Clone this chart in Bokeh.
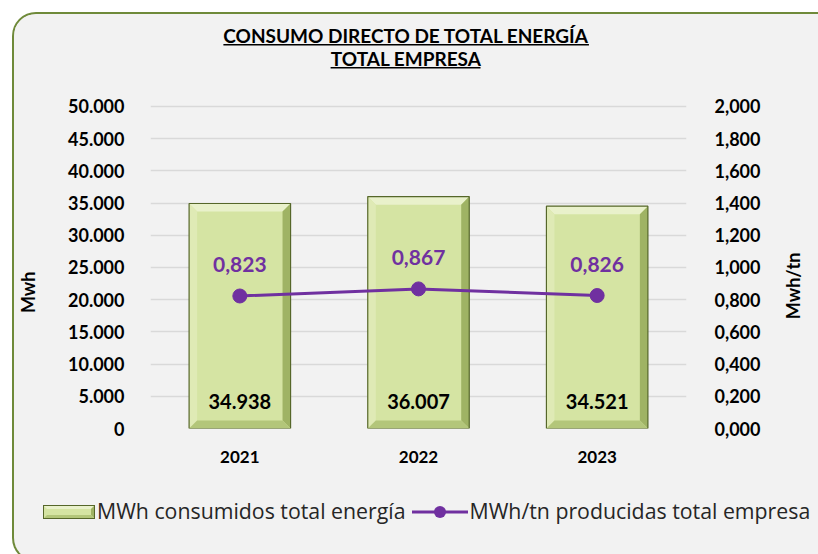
from bokeh.plotting import figure
from bokeh.layouts import column
from bokeh.models import (Range1d, LinearAxis, FixedTicker, ColumnDataSource, Div)
from bokeh.core.properties import value
from bokeh.embed import file_html
from bokeh.resources import INLINE
import math

years = ["2021", "2022", "2023"]
mwh = [34938, 36007, 34521]
ratio = [0.823, 0.867, 0.826]
mwh_labels = ["34.938", "36.007", "34.521"]
ratio_labels = ["0,823", "0,867", "0,826"]
left_ticks = [0, 5000, 10000, 15000, 20000, 25000, 30000, 35000, 40000, 45000, 50000]
left_tick_labels = ["0", "5.000", "10.000", "15.000", "20.000", "25.000", "30.000",
                    "35.000", "40.000", "45.000", "50.000"]
right_ticks = [0, 0.2, 0.4, 0.6, 0.8, 1.0, 1.2, 1.4, 1.6, 1.8, 2.0]
right_tick_labels = ["0,000", "0,200", "0,400", "0,600", "0,800", "1,000", "1,200",
                     "1,400", "1,600", "1,800", "2,000"]
title1 = "CONSUMO DIRECTO DE TOTAL ENERGÍA"
title2 = "TOTAL EMPRESA"
bar_name = "MWh consumidos total energía"
line_name = "MWh/tn producidas total empresa"
left_label = "Mwh"
right_label = "Mwh/tn"

FONT = "Lato"
PURPLE = "#7030a0"
BG = "#f2f2f2"
NB = "\u00a0"
FACE = "#d5e4a3"
EDGE = "#56672a"
TOPC, LEFTC, RIGHTC, BOTC = "#e9f1cb", "#dfeab5", "#9fb364", "#b3c67a"

LEFT_MAX = 50000
RIGHT_MAX = 2.0
TOP = 63354  # left-axis range extended above 50.000 to leave room for the title
RTOP = RIGHT_MAX * TOP / LEFT_MAX

xs = list(range(len(years)))
src = ColumnDataSource(dict(x=xs, mwh=mwh, ratio=ratio, mlab=mwh_labels, rlab=ratio_labels))

W = 804
p = figure(width=W, height=480, output_backend="svg", toolbar_location=None,
           x_range=Range1d(-0.5, 2.5), y_range=Range1d(0, TOP),
           min_border_left=134, min_border_right=126, min_border_top=6, min_border_bottom=66)
p.background_fill_color = BG
p.border_fill_color = BG
p.outline_line_color = None

p.extra_y_ranges = {"r": Range1d(0, RTOP)}

# beveled bars (bevel shapes derived from each bar's x and value)
hw = 0.284
bx, by = 0.045, 1250
tops, lefts, rights, bottoms = [], [], [], []
for x, v in zip(xs, mwh):
    L, R = x - hw, x + hw
    tops.append(([L, R, R - bx, L + bx], [v, v, v - by, v - by]))
    lefts.append(([L, L + bx, L + bx, L], [v, v - by, by, 0]))
    rights.append(([R, R - bx, R - bx, R], [v, v - by, by, 0]))
    bottoms.append(([L, R, R - bx, L + bx], [0, 0, by, by]))

p.vbar(x="x", top="mwh", width=2 * hw, source=src, fill_color=FACE, line_color=None)
for shapes, col in [(tops, TOPC), (lefts, LEFTC), (rights, RIGHTC), (bottoms, BOTC)]:
    p.patches(xs=[s[0] for s in shapes], ys=[s[1] for s in shapes], fill_color=col, line_color=None)
p.vbar(x="x", top="mwh", width=2 * hw, source=src, fill_color=None,
       line_color=EDGE, line_width=1.2)

p.line(x="x", y="ratio", source=src, y_range_name="r", line_color=PURPLE, line_width=3)
p.scatter(x="x", y="ratio", source=src, y_range_name="r", size=14,
          fill_color=PURPLE, line_color=PURPLE)

p.text(x="x", y="ratio", text="rlab", source=src, y_range_name="r", text_align="center",
       text_baseline="alphabetic", y_offset=-31, text_color=PURPLE, text_font_size="21px",
       text_font_style="bold", text_font=value(FONT))
p.text(x="x", y=0, text="mlab", source=src, text_align="center", text_baseline="alphabetic",
       y_offset=-27, text_color="black", text_font_size="20px", text_font_style="bold",
       text_font=value(FONT))

# title (inside the extended top of the frame), underlined
tx = 0.931
p.text(x=[tx, tx], y=[61070, 57450], text=[title1, title2], text_align="center",
       text_baseline="alphabetic", text_color="black", text_font_size="19px",
       text_font_style="bold", text_font=value(FONT))
p.segment(x0=[-0.092, 0.508], x1=[1.954, 1.347], y0=[59581, 56010], y1=[59581, 56010],
          line_color="black", line_width=1.5)

# axes
p.xaxis.ticker = FixedTicker(ticks=xs)
p.xaxis.major_label_overrides = {i: y for i, y in enumerate(years)}
p.yaxis.ticker = FixedTicker(ticks=left_ticks)
p.yaxis.major_label_overrides = dict(zip(left_ticks, left_tick_labels))
p.yaxis.axis_label = left_label + NB * 31

ra = LinearAxis(y_range_name="r", ticker=FixedTicker(ticks=right_ticks),
                major_label_overrides=dict(zip(right_ticks, right_tick_labels)))
if "axis_label_align" in ra.properties():
    # read bottom-to-top, starting from the bottom of the axis
    ra.axis_label_orientation = math.pi / 2
    ra.axis_label_align = "start"
    ra.axis_label = NB * 25 + right_label
else:
    ra.axis_label = NB * 27 + right_label
p.add_layout(ra, "right")

for ax in [p.xaxis[0], p.yaxis[0], ra]:
    ax.axis_line_color = None
    ax.major_tick_line_color = None
    ax.minor_tick_line_color = None
    ax.major_label_text_font = FONT
    ax.major_label_text_font_style = "bold"
    ax.major_label_text_font_size = "18px"
    ax.major_label_text_color = "black"
    ax.axis_label_text_font = FONT
    ax.axis_label_text_font_style = "bold"
    ax.axis_label_text_font_size = "18px"
    ax.axis_label_text_color = "black"
p.xaxis.major_label_text_font_size = "17px"
p.xaxis.major_label_standoff = 16
p.yaxis.major_label_standoff = 20
ra.major_label_standoff = 22
p.yaxis.axis_label_standoff = 26
ra.axis_label_standoff = 30

p.xgrid.grid_line_color = None
p.ygrid.grid_line_color = "#d9d9d9"
p.ygrid.grid_line_width = 1.5

# legend strip (series names with their swatches)
bar_swatch = (
    '<svg width="52" height="14" style="flex:none">'
    f'<rect x="0" y="0" width="52" height="14" fill="{FACE}"/>'
    f'<polygon points="0,0 52,0 48,4 4,4" fill="{TOPC}"/>'
    f'<polygon points="52,0 52,14 48,10 48,4" fill="{RIGHTC}"/>'
    f'<polygon points="0,14 52,14 48,10 4,10" fill="{BOTC}"/>'
    f'<rect x="0.5" y="0.5" width="51" height="13" fill="none" stroke="{EDGE}"/></svg>'
)
line_swatch = (
    '<svg width="56" height="14" style="flex:none;margin-left:6px">'
    f'<line x1="0" y1="7" x2="56" y2="7" stroke="{PURPLE}" stroke-width="3"/>'
    f'<circle cx="28" cy="7" r="6" fill="{PURPLE}"/></svg>'
)
html = (
    '<div style="display:flex;align-items:center;height:25px;padding-left:24px;'
    "font-family:'Open Sans';font-size:21.3px;color:#262626;white-space:nowrap;"
    f'background:{BG}">'
    f'{bar_swatch}<span style="margin-left:2px">{bar_name}</span>'
    f'{line_swatch}<span style="margin-left:2px">{line_name}</span></div>'
)
lg = Div(text=html, width=W, height=56, styles={"background": BG})

layout = column(p, lg, spacing=0,
                styles={"margin-left": "12px", "margin-top": "12px",
                        "border-left": "2px solid #6f8a3a", "border-top": "2px solid #6f8a3a",
                        "border-bottom": "2px solid #6f8a3a", "border-radius": "24px 0 0 24px",
                        "overflow": "hidden", "background": BG})

open("out.html", "w").write(file_html(layout, INLINE))
